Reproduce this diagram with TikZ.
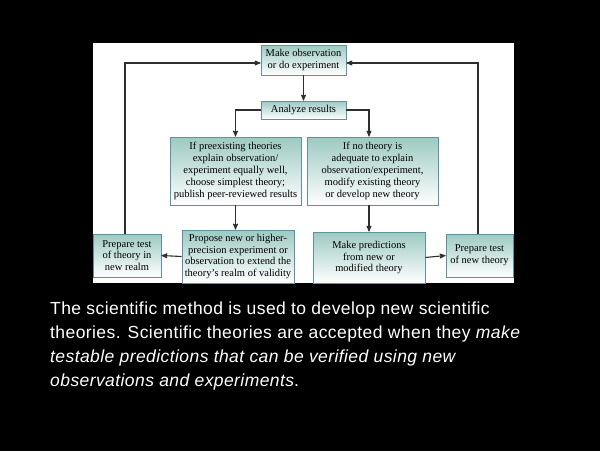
\documentclass[tikz,border=0pt]{standalone}
\usepackage{fontspec}
\setmainfont{Liberation Serif}
\newfontfamily\capfont[LetterSpace=2.4]{Liberation Sans}
\usetikzlibrary{arrows}

\definecolor{boxline}{HTML}{5B93A3}
\definecolor{boxtop}{HTML}{9CCAC1}
\definecolor{wire}{HTML}{2E2E2E}

\begin{document}
\begin{tikzpicture}[x=1pt,y=-1pt,>=stealth',
    stage/.style={draw=boxline,line width=0.8pt,top color=boxtop,bottom color=white,
        align=center,inner sep=0pt,font=\fontsize{10.5}{11.8}\selectfont},
    wire/.style={draw=wire,line width=1.1pt,->}]
    \fill[black] (0,0) rectangle (600,451);
    \useasboundingbox (0,0) rectangle (600,451);
    \fill[white] (93,43) rectangle (514,283);
    \node[stage,minimum width=85pt,minimum height=30pt] (obs) at (303.5,60) {Make observation\\or do experiment};
    \node[stage,minimum width=85pt,minimum height=18pt] (analyze) at (303.5,110) {Analyze results};
    \node[stage,minimum width=131pt,minimum height=68pt] (old) at (235.5,171)
        {If preexisting theories\\explain observation/\\experiment equally well,\\choose simplest theory;\\publish peer-reviewed results};
    \node[stage,minimum width=131pt,minimum height=68pt] (none) at (372.5,171)
        {If no theory is\\adequate to explain\\observation/experiment,\\modify existing theory\\or develop new theory};
    \node[stage,minimum width=68pt,minimum height=43pt] (testold) at (127,255.5) {Prepare test\\of theory in\\new realm};
    \node[stage,minimum width=112pt,minimum height=53pt] (propose) at (238,256.5)
        {Propose new or higher-\\precision experiment or\\observation to extend the\\theory's realm of validity};
    \node[stage,minimum width=112pt,minimum height=51pt] (predict) at (369,257.5) {Make predictions\\from new or\\modified theory};
    \node[stage,minimum width=67pt,minimum height=43pt] (testnew) at (479.5,255.5) {Prepare test\\of new theory};
    \draw[wire] (obs) -- (analyze);
    \draw[wire] (analyze.west) -| (old.north);
    \draw[wire] (analyze.east) -| (predict.north |- none.north);
    \draw[wire] (old.south) -- (old.south |- propose.north);
    \draw[wire] (predict.north |- none.south) -- (predict.north);
    \draw[wire] (propose.west) -- (testold.east);
    \draw[wire] (predict.east) -- (testnew.west);
    \draw[wire] ([xshift=-2pt]testold.north) |- ([yshift=-3pt]obs.west);
    \draw[wire] ([xshift=-1.5pt]testnew.north) |- ([yshift=-3pt]obs.east);
    \node[anchor=north west,inner sep=0pt,text=white,align=left,
        font=\capfont\fontsize{17.5}{24}\selectfont] (caption) at (50,302)
        {The scientific method is used to develop new scientific\\
        theories. Scientific theories are accepted when they \textit{make}\\
        \textit{testable predictions that can be verified using new}\\
        \textit{observations and experiments}.};
\end{tikzpicture}
\end{document}
